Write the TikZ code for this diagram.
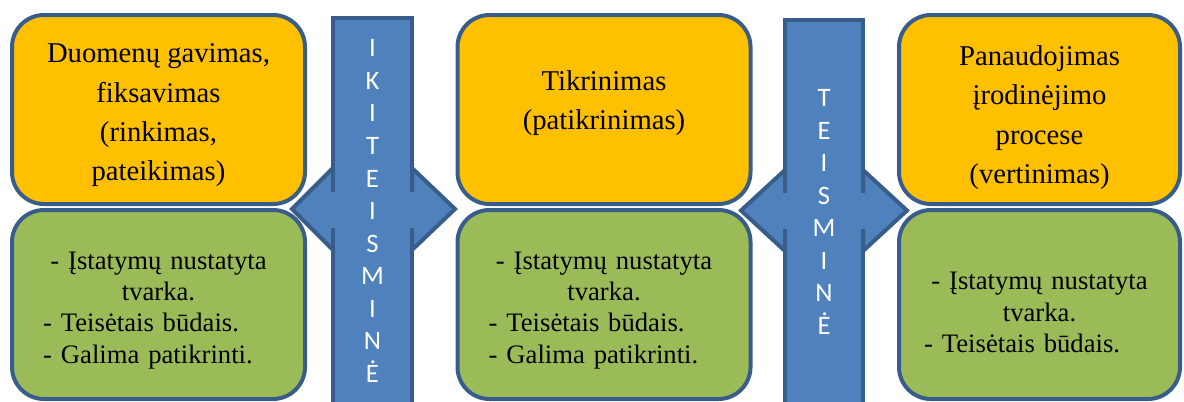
\documentclass[tikz,border=0pt]{standalone}
\usepackage{fontspec}
\setmainfont{Liberation Serif}
\newfontfamily\letterfont{Carlito}
\usepackage{tikz}
\definecolor{stageorange}{HTML}{FFC000}
\definecolor{reqgreen}{HTML}{9BBB59}
\definecolor{arrowblue}{HTML}{4F81BD}
\definecolor{lineblue}{HTML}{385D8A}
\setlength{\parindent}{0pt}

\begin{document}
\begin{tikzpicture}[x=0.75pt, y=-0.75pt, stage/.style={draw=lineblue, fill=stageorange, line width=3pt, rounded corners=24pt, minimum width=219.75pt, minimum height=141.75pt}, req/.style={stage, fill=reqgreen}, stagetext/.style={align=center, inner sep=0pt, yshift=-4.5pt, font=\fontsize{21.5}{29.5}\selectfont}, reqtext/.style={inner sep=0pt, yshift=-4.5pt, text width=173pt, font=\fontsize{20}{23.3}\selectfont}, bar/.style={draw=lineblue, fill=arrowblue, line width=3pt, minimum width=59pt, inner sep=0pt, align=center, text=white, font=\letterfont\fontsize{20}{24.4}\selectfont}, head/.style={draw=lineblue, fill=arrowblue, line width=3pt, line join=miter}, gap/.style={fill=arrowblue}]
            \useasboundingbox (0,0) rectangle (1184,401);
            % boxes
            \node[stage] (o1) at (158.5,109.5) {};
            \node[req] (g1) at (158.5,304.5) {};
            \node[stage] (o2) at (604,109.5) {};
            \node[req] (g2) at (604,304.5) {};
            \node[stage, minimum width=210.75pt] (o3) at (1039.5,109.5) {};
            \node[req, minimum width=210.75pt] (g3) at (1039.5,304.5) {};
            % texts
            \node[stagetext] (t1) at (o1.center) {Duomenų gavimas,\\fiksavimas\\(rinkimas,\\pateikimas)};
            \node[stagetext, yshift=9.5pt] (t2) at (o2.center) {Tikrinimas\\(patikrinimas)};
            \node[stagetext, yshift=-1.5pt] (t3) at (o3.center) {Panaudojimas\\įrodinėjimo\\procese\\(vertinimas)};
            \node[reqtext] (r1) at (g1.center) {\centering - Įstatymų nustatyta\\tvarka.\par\raggedright - Teisėtais būdais.\\- Galima patikrinti.};
            \node[reqtext] (r2) at (g2.center) {\centering - Įstatymų nustatyta\\tvarka.\par\raggedright - Teisėtais būdais.\\- Galima patikrinti.};
            \node[reqtext, yshift=-1.5pt] (r3) at (g3.center) {\centering - Įstatymų nustatyta\\tvarka.\par\raggedright - Teisėtais būdais.};
            % arrows
            \draw[head] (333,168) -- (292,209) -- (333,250) -- cycle;
            \draw[head] (412,168) -- (455,209) -- (412,250) -- cycle;
            \node[bar, minimum height=289.5pt] (b1) at (372.5,211) {I\\K\\I\\T\\E\\I\\S\\M\\I\\N\\Ė};
            \fill[gap] (328,192) rectangle (338,228);
            \fill[gap] (407,192) rectangle (417,228);
            \draw[head] (785,170) -- (741,210.5) -- (785,251) -- cycle;
            \draw[head] (863,170) -- (907,210.5) -- (863,251) -- cycle;
            \node[bar, minimum height=288pt] (b2) at (824,212) {T\\E\\I\\S\\M\\I\\N\\Ė};
            \fill[gap] (780,193) rectangle (790,229);
            \fill[gap] (858,193) rectangle (868,229);
        \end{tikzpicture}
\end{document}
